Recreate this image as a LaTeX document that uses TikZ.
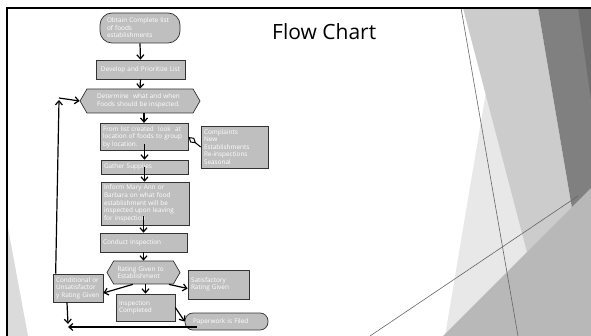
\documentclass[tikz,border=0pt]{standalone}
\usepackage{fontspec}
\setmainfont{Open Sans}
\usetikzlibrary{arrows.meta,shapes.symbols}
\newcommand\boxfont{\fontsize{6.4}{7.6}\selectfont}
\begin{document}
\begin{tikzpicture}[x=1pt,y=-1pt,
 box/.style 2 args={draw=black!80,fill=black!25,text=white,font=\boxfont,line width=.7pt,
  align=left,inner sep=3pt,text width=#1,minimum width=#1+6pt,minimum height=#2},
 hexa/.style={draw=black!80,fill=black!25,text=white,font=\boxfont,line width=.7pt,
  align=left,inner sep=3pt,signal,signal to=east and west,signal pointer angle=120},
 arr/.style={line width=1.2pt,-{Straight Barb[length=4pt,width=7pt]}}]
\useasboundingbox (0,0) rectangle (591,336);
%Hintergrund
\fill[black!9] (488,80) -- (552,336) -- (445,336) -- cycle;
\fill[black!14] (8,228) -- (28,336) -- (8,336) -- cycle;
\fill[black!20] (463,8) -- (538,8) -- (576,232) -- (528,256) -- cycle;
\fill[black!50] (538,8) -- (591,8) -- (591,200) -- (576,232) -- cycle;
\fill[black!57] (578,8) -- (591,8) -- (591,100) -- cycle;
\fill[black!28] (443,336) -- (591,188) -- (591,336) -- cycle;
\draw[black!60,line width=.6pt] (461,8) -- (518,336);
\draw[black!60,line width=.6pt] (370,336) -- (578,196);
\draw[line width=2pt] (6.7,336) -- (6.7,7.6) -- (591,7.6);
%Titel
\node[font=\fontsize{21}{25}\selectfont,anchor=base west,inner sep=0pt] (title) at (272,40) {Flow Chart};
%Kaesten
\node[box={66pt}{30pt},inner xsep=7pt,rounded corners=12pt] (start) at (140,28) {Obtain Complete list\\of foods\\establishments};
\node[box={83pt}{19pt},align=center] (dev) at (140.5,69.5) {Develop and Prioritize List};
\node[hexa,text width=86pt,minimum width=120pt,minimum height=24pt] (det) at (140,101) {Determine\ \ what and when\\Foods should be inspected.};
\node[box={82pt}{26pt}] (from) at (144,137) {From list created\ \ look\ \ at\\location of foods to group\\by location.};
\node[box={61pt}{42pt}] (comp) at (234.5,147) {Complaints\\New\\Establishments\\Re-inspections\\Seasonal};
\node[box={81pt}{14pt}] (gather) at (144.5,167) {Gather Supplies};
\node[box={82pt}{41pt}] (inform) at (145,203.5) {Inform Mary Ann or\\Barbara on what food\\establishment will be\\inspected upon leaving\\for inspection};
\node[box={81pt}{19pt}] (conduct) at (143.5,242.5) {Conduct Inspection};
\node[hexa,text width=52pt,minimum width=73pt,minimum height=23pt] (rating) at (143.5,272.5) {Rating Given to\\Establishment};
\node[box={55pt}{29pt}] (sat) at (218.5,284.5) {Satisfactory\\Rating Given};
\node[box={44pt}{28pt},inner xsep=2pt] (cond) at (78,288) {Conditional or\\Unsatisfactor\\y Rating Given};
\node[box={53pt}{27pt}] (done) at (145.5,307.5) {Inspection\\Completed};
\node[box={67pt}{17pt},inner xsep=8pt,rounded corners=8pt] (paper) at (226.5,321.5) {Paperwork is Filed};
\coordinate (merge) at (68,327);
\coordinate (loop) at (59,100);
%Pfeile
\draw[arr] (start.south) -- (dev.north);
\draw[arr] (dev.south) -- (det.north);
\draw[arr] (det.south -| from) -- (from.north);
\draw[line width=1pt,{Diamond[open,length=10pt,width=6pt]}-] (from.east) -- (comp.west);
\draw[arr] ([yshift=7pt]from.south -| gather) -- (gather.north);
\draw[arr] (gather.center) -- (gather.center |- inform.north);
\draw[arr] ([yshift=9pt]inform.south -| conduct) -- (conduct.north);
\draw[arr] (conduct.south) -- (rating.north);
\draw[arr] (rating.-25) -- ([yshift=-4pt]sat.west);
\draw[arr] (rating.228) -- ([yshift=-5pt]cond.east);
\draw[arr] (done.north |- rating.south) -- (done.north);
\draw[arr] (done.east) -- (paper.west);
\draw[arr] ([xshift=-11pt]cond.south) -- ([yshift=3pt]merge);
\draw[arr] ([xshift=12pt]paper.west |- merge) -- (merge);
\draw[arr] ([xshift=3pt]cond.north west) -- (loop);
\draw[arr] ([yshift=2pt]loop) -- (det.west);
\end{tikzpicture}
\end{document}
